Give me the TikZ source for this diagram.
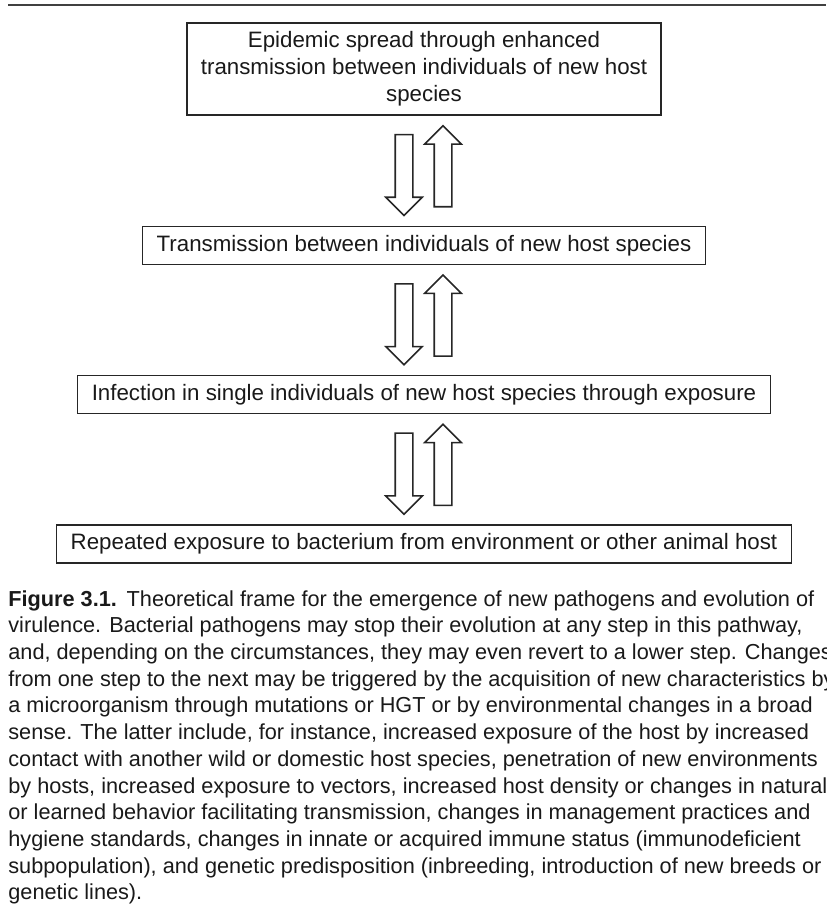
\documentclass[tikz,border=0pt]{standalone}
\usepackage{fontspec}
\setmainfont{Liberation Sans}
\usetikzlibrary{positioning, shapes.arrows, calc}

\begin{document}
\begin{tikzpicture}[
    x=0.5pt, y=-0.5pt,
    node distance=55pt,
    box/.style={draw=black!85, line width=0.65pt, minimum height=19pt, inner xsep=7pt, inner ysep=0pt, align=center, font=\fontsize{11.15}{13.5}\selectfont, text=black!90},
    downblock/.style={draw=black!85, line width=0.8pt, single arrow, shape border rotate=270, minimum height=40.5pt, minimum width=17.5pt, single arrow head extend=4.75pt, inner sep=4pt},
    upblock/.style={downblock, shape border rotate=90},
    caption/.style={anchor=north west, inner sep=0pt, align=left, font=\fontsize{10.85}{13.35}\selectfont, text=black!90},
    toprule/.style={line width=1pt, black!75}
]
\useasboundingbox (0,0) rectangle (826,911);

% Rule above the figure
\draw[toprule] (8,5) -- (826,5);

% Steps
\node[box, minimum height=46pt] (epidemic) at (424,69) {Epidemic spread through enhanced\\transmission between individuals of new host\\species};
\node[box, below=of epidemic] (transmission) {Transmission between individuals of new host species};
\node[box, below=of transmission] (infection) {Infection in single individuals of new host species through exposure};
\node[box, below=of infection] (exposure) {Repeated exposure to bacterium from environment or other animal host};

% Block arrows between steps
\node[downblock] (down1) at ($(epidemic.south)!0.5!(transmission.north)+(-20,0)$) {};
\node[upblock] (up1) at ($(epidemic.south)!0.5!(transmission.north)+(19,0)$) {};
\node[downblock] (down2) at ($(transmission.south)!0.5!(infection.north)+(-20,0)$) {};
\node[upblock] (up2) at ($(transmission.south)!0.5!(infection.north)+(19,0)$) {};
\node[downblock] (down3) at ($(infection.south)!0.5!(exposure.north)+(-20,0)$) {};
\node[upblock] (up3) at ($(infection.south)!0.5!(exposure.north)+(19,0)$) {};

% Caption
\node[caption] (caption) at (8,590) {\textbf{Figure 3.1.}\hspace{0.45em}Theoretical frame for the emergence of new pathogens and evolution of\\
virulence. Bacterial pathogens may stop their evolution at any step in this pathway,\\
and, depending on the circumstances, they may even revert to a lower step. Changes\\
from one step to the next may be triggered by the acquisition of new characteristics by\\
a microorganism through mutations or HGT or by environmental changes in a broad\\
sense. The latter include, for instance, increased exposure of the host by increased\\
contact with another wild or domestic host species, penetration of new environments\\
by hosts, increased exposure to vectors, increased host density or changes in natural\\
or learned behavior facilitating transmission, changes in management practices and\\
hygiene standards, changes in innate or acquired immune status (immunodeficient\\
subpopulation), and genetic predisposition (inbreeding, introduction of new breeds or\\
genetic lines).};

\end{tikzpicture}
\end{document}
